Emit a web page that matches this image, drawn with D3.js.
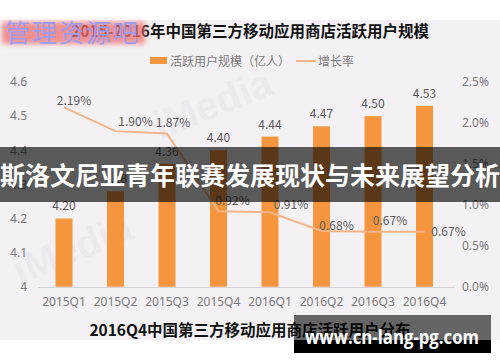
<!DOCTYPE html>
<html><head><meta charset="utf-8">
<script src="https://cdn.jsdelivr.net/npm/d3@7/dist/d3.min.js"></script>
<style>
html,body{margin:0;padding:0;background:#fff;}
svg{display:block;font-family:"Noto Sans CJK SC","Noto Sans",sans-serif;}
</style></head>
<body>
<script>
const categories = ["2015Q1","2015Q2","2015Q3","2015Q4","2016Q1","2016Q2","2016Q3","2016Q4"];
const activeUsers = [4.20, 4.28, 4.36, 4.40, 4.44, 4.47, 4.50, 4.53];
const growthRate = [2.19, 1.90, 1.87, 0.92, 0.91, 0.68, 0.67, 0.67];
const leftTicks = [4, 4.1, 4.2, 4.3, 4.4, 4.5, 4.6];
const rightTicks = [0, 0.5, 1.0, 1.5, 2.0, 2.5];
const titleText = "2015-2016年中国第三方移动应用商店活跃用户规模";
const subTitleText = "2016Q4中国第三方移动应用商店活跃用户分布";
const legendNames = ["活跃用户规模（亿人）", "增长率"];
const bannerText = "斯洛文尼亚青年联赛发展现状与未来展望分析";
const siteText = "www.cn-lang-pg.com";
const markText = "管理资源吧";

const W = 500, H = 362;
const svg = d3.select("body").append("svg").attr("width", W).attr("height", H);
const defs = svg.append("defs");
defs.append("filter").attr("id","blur").attr("x","-20%").attr("y","-40%").attr("width","140%").attr("height","180%")
  .append("feGaussianBlur").attr("stdDeviation", 2.5);

// chart background
svg.append("rect").attr("x",0).attr("y",20).attr("width",W).attr("height",320).attr("fill","#f3f1f4");

const x = d3.scaleBand().domain(categories).range([38.25, 450.25]).paddingInner(0.67).paddingOuter(0.335);
const yL = d3.scaleLinear().domain([4, 4.6]).range([286.7, 82]);
const yR = d3.scaleLinear().domain([0, 2.5]).range([286.7, 82]);

// faint watermarks
svg.append("text").attr("transform","translate(160,140) rotate(-22)").attr("font-size",40).attr("font-weight","bold")
  .attr("font-family","Liberation Sans, sans-serif").attr("fill","#e4e2e8").attr("opacity",0.5).text("iMedia");
svg.append("text").attr("transform","translate(20,285) rotate(-22)").attr("font-size",40).attr("font-weight","bold")
  .attr("font-family","Liberation Sans, sans-serif").attr("fill","#e4e2e8").attr("opacity",0.5).text("iMedia");

// title
svg.append("text").attr("x",250).attr("y",37).attr("text-anchor","middle").attr("font-size",15.5).attr("font-weight","bold")
  .attr("fill","#111").text(titleText);

// legend
const lg = svg.append("g");
lg.append("rect").attr("x",150).attr("y",57).attr("width",17).attr("height",7).attr("fill","#f5963f");
lg.append("text").attr("x",170).attr("y",65.5).attr("font-size",12).attr("fill","#7a7a7a").text(legendNames[0]);
lg.append("line").attr("x1",296).attr("x2",316).attr("y1",61).attr("y2",61).attr("stroke","#f4b48a").attr("stroke-width",2);
lg.append("text").attr("x",318).attr("y",65.5).attr("font-size",12).attr("fill","#7a7a7a").text(legendNames[1]);

// bars
svg.append("g").selectAll("rect").data(activeUsers).join("rect")
  .attr("x",(d,i)=>x(categories[i])).attr("width",x.bandwidth())
  .attr("y",d=>yL(d)).attr("height",d=>yL(4)-yL(d)).attr("fill","#f5963f");

svg.append("g").selectAll("text").data(activeUsers).join("text")
  .attr("x",(d,i)=>x(categories[i])+x.bandwidth()/2).attr("y",d=>yL(d)-8)
  .attr("text-anchor","middle").attr("font-size",12).attr("fill","#595959").text(d=>d.toFixed(2));

// line
const cx = i => x(categories[i]) + x.bandwidth()/2;
svg.append("path").datum(growthRate)
  .attr("d", d3.line().x((d,i)=>cx(i)).y(d=>yR(d)))
  .attr("fill","none").attr("stroke","#f4b48a").attr("stroke-width",2);

const rateLabelOffset = [[10,-6],[20,-9],[6,-11],[14,-10],[21,-7],[15,-5],[17,-11],[24,0]];
svg.append("g").selectAll("text").data(growthRate).join("text")
  .attr("x",(d,i)=>cx(i)+rateLabelOffset[i][0]).attr("y",(d,i)=>yR(d)+rateLabelOffset[i][1]+4)
  .attr("text-anchor","middle").attr("font-size",12).attr("fill","#595959").text(d=>d.toFixed(2)+"%");

// axes
const axL = svg.append("g").attr("transform","translate(27,0)").call(d3.axisLeft(yL).tickValues(leftTicks).tickSize(0).tickPadding(0).tickFormat(d3.format("~g")));
const axR = svg.append("g").attr("transform","translate(462,0)").call(d3.axisRight(yR).tickValues(rightTicks).tickSize(0).tickPadding(0).tickFormat(d=>d.toFixed(1)+"%"));
const axB = svg.append("g").attr("transform","translate(0,287)").call(d3.axisBottom(x).tickSize(0).tickPadding(10));
[axL,axR,axB].forEach(a=>{a.select(".domain").remove(); a.selectAll("text").attr("font-size",12).attr("fill","#7a7a7a").attr("font-family","Noto Sans, sans-serif");});
svg.append("line").attr("x1",38).attr("x2",455).attr("y1",287.5).attr("y2",287.5).attr("stroke","#d6d4d8").attr("stroke-width",1);

// bottom title
svg.append("text").attr("x",250).attr("y",336).attr("text-anchor","middle").attr("font-size",15.5).attr("font-weight","bold")
  .attr("fill","#111").text(subTitleText);

// overlay banner
svg.append("rect").attr("x",0).attr("y",147).attr("width",W).attr("height",55).attr("fill","#000").attr("opacity",0.63);
svg.append("text").attr("x",250).attr("y",185).attr("text-anchor","middle").attr("font-size",25).attr("font-weight","bold")
  .attr("fill","#fff").text(bannerText);

// top-left watermark
svg.append("rect").attr("x",2).attr("y",22).attr("width",143).attr("height",22).attr("fill","#f07070").attr("opacity",0.75).attr("filter","url(#blur)");
svg.append("text").attr("x",5).attr("y",42).attr("font-size",25).attr("fill","#9c9cf2").attr("textLength",133).text(markText);

// site banner
svg.append("rect").attr("x",294).attr("y",315).attr("width",197).attr("height",25).attr("fill","#000").attr("opacity",0.58);
svg.append("rect").attr("x",294).attr("y",340).attr("width",197).attr("height",13).attr("fill","#000");
svg.append("text").attr("x",305).attr("y",344).attr("font-size",20).attr("font-weight","bold").attr("fill","#fff")
  .attr("font-family","Open Sans, sans-serif").attr("textLength",174).attr("lengthAdjust","spacingAndGlyphs").text(siteText);
</script>
</body></html>
